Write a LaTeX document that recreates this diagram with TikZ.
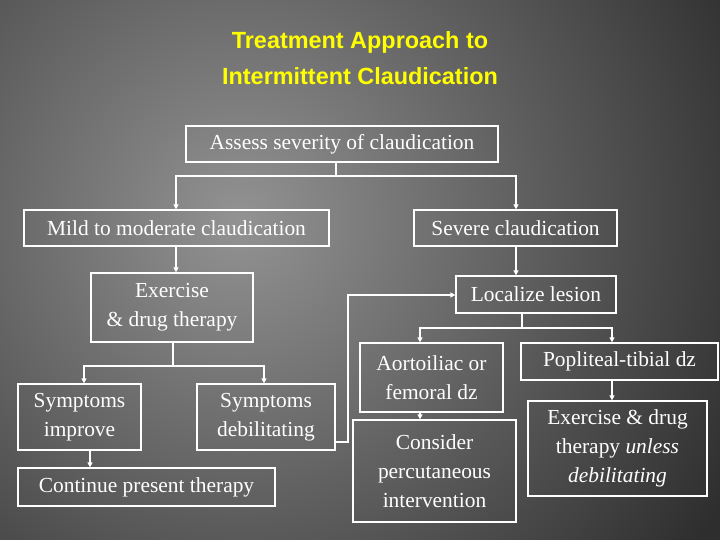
\documentclass[tikz,border=0pt]{standalone}
\usepackage{fontspec}
\setmainfont{Liberation Serif}
\newfontfamily\titlefont{Liberation Sans}
\usetikzlibrary{arrows.meta}
\definecolor{titleyellow}{RGB}{255,255,0}
\begin{document}
\begin{tikzpicture}
[x=1bp,y=-1bp,every node/.style={draw=white,line width=1.3bp,text=white,align=center,inner sep=0pt,font=\fontsize{21.5}{29}\selectfont},
 link/.style={draw=white,line width=1.3bp,-{Triangle[width=5bp,length=5bp]}},
 line/.style={draw=white,line width=1.3bp}]

  % background
  \useasboundingbox (0,0) rectangle (720,540);
  \begin{scope}
    \clip (0,0) rectangle (720,540);
    \shade[inner color=gray!85,outer color=black!82,shading=radial] (-320,-340) rectangle (800,780);
  \end{scope}
  \node[draw=none,text=titleyellow,font=\titlefont\bfseries\fontsize{23.5}{36}\selectfont] (title) at (360,58) {Treatment Approach to\\Intermittent Claudication};

  \node[minimum width=312bp,minimum height=36bp] (assess) at (342,144) {Assess severity of claudication};
  \node[minimum width=305bp,minimum height=36bp] (mild) at (176.5,228) {Mild to moderate claudication};
  \node[minimum width=203bp,minimum height=36bp] (severe) at (515.5,228) {Severe claudication};
  \node[minimum width=162bp,minimum height=69bp] (exer) at (172,307.5) {Exercise\\\& drug therapy};
  \node[minimum width=160bp,minimum height=37bp] (local) at (536,294.5) {Localize lesion};
  \node[minimum width=123bp,minimum height=66bp] (improve) at (79.5,417) {Symptoms\\improve};
  \node[minimum width=138bp,minimum height=66bp] (debil) at (266,417) {Symptoms\\debilitating};
  \node[minimum width=257bp,minimum height=38bp] (cont) at (146.5,487) {Continue present therapy};
  \node[minimum width=143bp,minimum height=69bp] (aorto) at (431.5,377.5) {Aortoiliac or\\femoral dz};
  \node[minimum width=197bp,minimum height=37bp] (popl) at (619.5,361.5) {Popliteal-tibial dz};
  \node[minimum width=163bp,minimum height=102bp] (consid) at (434.5,471) {Consider\\percutaneous\\intervention};
  \node[minimum width=179bp,minimum height=95bp] (exer2) at (617.5,448.5) {Exercise \& drug\\therapy \textit{unless}\\\textit{debilitating}};

  \coordinate (j1) at (336,176);
  \coordinate (j2) at (173,366);
  \coordinate (j3) at (522,328);
  \draw[line] (assess.south -| j1) -- (j1);
  \draw[link] (j1) -| (mild.north -| 176,0);
  \draw[link] (j1) -| (severe.north -| 516,0);
  \draw[link] (mild.south -| 176,0) -- (exer.north -| 176,0);
  \draw[link] (severe.south -| 516,0) -- (local.north -| 516,0);
  \draw[line] (exer.south -| j2) -- (j2);
  \draw[link] (j2) -| (improve.north -| 84,0);
  \draw[link] (j2) -| (debil.north -| 264,0);
  \draw[link] (improve.south -| 90,0) -- (cont.north -| 90,0);
  \draw[link] (debil.east |- 0,442) -- (348,442) |- (local.west |- 0,295);
  \draw[line] (local.south -| j3) -- (j3);
  \draw[link] (j3) -| (aorto.north -| 420,0);
  \draw[link] (j3) -| (popl.north -| 612,0);
  \draw[link] (aorto.south -| 420,0) -- (consid.north -| 420,0);
  \draw[link] (popl.south -| 612,0) -- (exer2.north -| 612,0);

\end{tikzpicture}
\end{document}
